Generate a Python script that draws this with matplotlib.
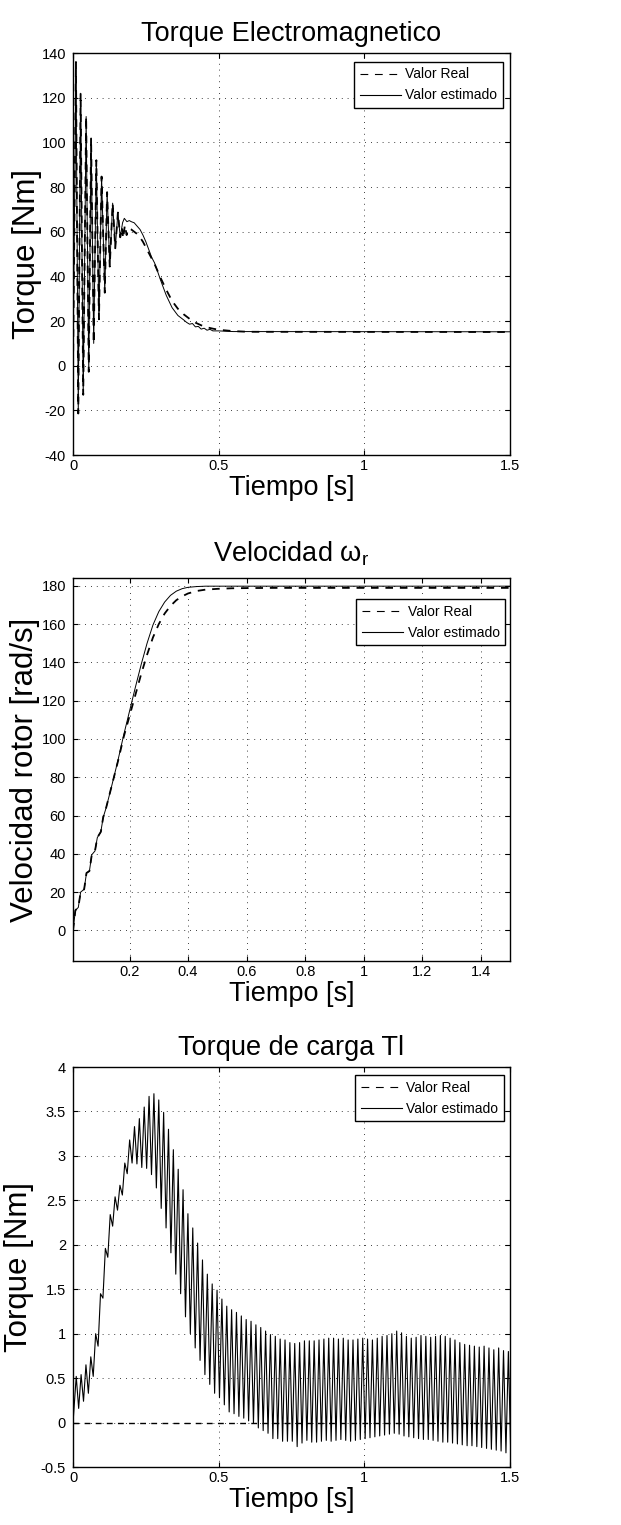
import numpy as np
import matplotlib
matplotlib.use('Agg')
import matplotlib.pyplot as plt
from matplotlib.ticker import FuncFormatter

plt.rcParams['font.family'] = ['Liberation Sans', 'DejaVu Sans']
plt.rcParams['mathtext.fontset'] = 'custom'
plt.rcParams['mathtext.rm'] = 'Liberation Sans'
plt.rcParams['mathtext.it'] = 'Liberation Sans'

# ---- torque electromagnetico: arranque oscilatorio (comun a ambas curvas)
te_osc_t = [0.0, 0.010, 0.018, 0.026, 0.035, 0.045, 0.054, 0.062, 0.071, 0.080,
            0.089, 0.098, 0.109, 0.117, 0.126, 0.136, 0.145, 0.154, 0.162]
te_osc = [0.0, 136, -21.4, 122, -13, 111.6, -2.7, 102, 10, 92,
          20.8, 84.7, 32.7, 77.7, 44.4, 72.8, 52.6, 68.6, 57.5]

# valor real despues de las oscilaciones
te_real_t = [0.168, 0.172, 0.178, 0.184, 0.19, 0.20, 0.21, 0.22, 0.23, 0.24, 0.25,
             0.26, 0.27, 0.28, 0.29, 0.30, 0.32, 0.34, 0.36, 0.38, 0.40, 0.42,
             0.44, 0.46, 0.48, 0.50, 0.55, 0.60, 1.50]
te_real = [62, 57, 63, 58.5, 61.5, 61, 60, 59, 57.5, 55.5, 53,
           50.5, 48, 45.5, 42.5, 39.5, 34, 29, 25.5, 23, 21, 19.3,
           18.1, 17.2, 16.6, 16.1, 15.5, 15.2, 15.1]

# valor estimado despues de las oscilaciones
te_est_t = [0.17, 0.176, 0.185, 0.193, 0.20, 0.21, 0.22, 0.23, 0.24, 0.25, 0.26,
            0.27, 0.28, 0.29, 0.30, 0.32, 0.34, 0.36, 0.38, 0.39, 0.40, 0.41,
            0.42, 0.43, 0.44, 0.45, 0.46, 0.47, 0.48, 0.50, 0.55, 1.50]
te_est = [64, 66, 64.5, 65, 64.5, 64, 62.5, 61, 58.5, 55.5, 52,
          48.5, 46, 42.3, 38.5, 31.5, 26, 22.5, 20.5, 19.4, 18.6, 18.9,
          17.4, 17.6, 16.4, 16.8, 15.9, 16.3, 15.6, 15.6, 15.3, 15.2]

# ---- velocidad del rotor
wr_real_t = [0.007, 0.015, 0.025, 0.033, 0.045, 0.053, 0.063, 0.071, 0.082, 0.09,
             0.102, 0.11, 0.12, 0.14, 0.16, 0.18, 0.20, 0.22, 0.24, 0.26, 0.28,
             0.30, 0.32, 0.34, 0.36, 0.38, 0.40, 0.43, 0.46, 0.50, 0.55, 0.60,
             0.70, 1.50]
wr_real = [0, 10.5, 12, 20, 21.5, 30, 31, 39.5, 41.5, 48.5,
           51.5, 59, 64, 76, 88, 101, 112, 123, 134, 144, 153,
           160, 165.5, 169.5, 172.5, 174.5, 176, 177.3, 178, 178.4, 178.7, 178.8,
           178.9, 178.9]

wr_est_t = [0.007, 0.015, 0.025, 0.033, 0.045, 0.053, 0.063, 0.071, 0.082, 0.09,
            0.102, 0.11, 0.12, 0.14, 0.16, 0.18, 0.20, 0.22, 0.24, 0.26, 0.28,
            0.30, 0.32, 0.34, 0.36, 0.38, 0.40, 0.43, 0.46, 1.50]
wr_est = [0, 10.5, 12, 20, 21.5, 30, 31, 39.5, 41.5, 48.5,
          51.5, 59, 64, 76, 88.5, 102, 114.5, 127, 139, 150, 159.5,
          166.5, 171.5, 175, 177.2, 178.5, 179.2, 179.6, 179.8, 179.8]

# ---- torque de carga estimado: crestas y valles de cada ciclo (60 Hz)
tl_t0 = 0.011
tl_period = 1 / 60.0
tl_peak = [0.52, 0.54, 0.65, 0.74, 1.0, 1.45, 1.96, 2.34, 2.54, 2.67,
           2.92, 3.18, 3.33, 3.42, 3.55, 3.67, 3.70, 3.63, 3.49, 3.30,
           3.07, 2.85, 2.62, 2.35, 2.19, 2.02, 1.83, 1.67, 1.56, 1.49,
           1.39, 1.31, 1.27, 1.24, 1.20, 1.16, 1.14, 1.10, 1.07, 1.03,
           0.99, 0.97, 0.94, 0.93, 0.90, 0.89, 0.90, 0.92, 0.92, 0.92,
           0.93, 0.94, 0.95, 0.95, 0.94, 0.95, 0.93, 0.93, 0.94, 0.95,
           0.94, 0.93, 0.95, 0.97, 0.98, 1.0, 1.03, 1.01, 0.97, 0.95,
           0.96, 0.98, 0.97, 0.96, 0.97, 0.98, 0.97, 0.95, 0.93, 0.90,
           0.88, 0.87, 0.86, 0.85, 0.86, 0.84, 0.82, 0.84, 0.81, 0.80]
tl_trough = [0.16, 0.24, 0.33, 0.52, 0.86, 1.40, 1.86, 2.21, 2.39, 2.56,
             2.80, 2.92, 2.91, 2.87, 2.86, 2.79, 2.64, 2.41, 2.19, 1.91,
             1.67, 1.45, 1.19, 1.0, 0.84, 0.70, 0.54, 0.43, 0.33, 0.28,
             0.20, 0.12, 0.10, 0.07, 0.05, 0.02, -0.01, -0.06, -0.09, -0.12,
             -0.18, -0.18, -0.21, -0.21, -0.21, -0.27, -0.23, -0.20, -0.22, -0.22,
             -0.21, -0.20, -0.21, -0.20, -0.19, -0.20, -0.21, -0.20, -0.19, -0.18,
             -0.17, -0.16, -0.15, -0.14, -0.13, -0.12, -0.13, -0.15, -0.16, -0.17,
             -0.18, -0.19, -0.19, -0.20, -0.21, -0.22, -0.22, -0.23, -0.24, -0.25,
             -0.26, -0.26, -0.27, -0.28, -0.29, -0.30, -0.31, -0.32, -0.34, -0.38]
tl_real_t = [0.0, 1.5]
tl_real = [0.0, 0.0]

k = np.arange(len(tl_peak))
t_peak = tl_t0 + k * tl_period
t_trough = t_peak + tl_period / 2
tl_t = np.concatenate([[0.0], np.column_stack([t_peak, t_trough]).ravel()])
tl_est = np.concatenate([[0.0], np.column_stack([tl_peak, tl_trough]).ravel()])

te_real_all = (te_osc_t + te_real_t, te_osc + te_real)
te_est_all = (te_osc_t + te_est_t, te_osc + te_est)

DASH = (0, (4.2, 3.8))
fmt = FuncFormatter(lambda v, p: '%g' % v)


def style_axes(ax):
    ax.grid(True, color='k', linestyle=(0, (1, 6)), linewidth=0.6)
    ax.tick_params(direction='in', length=3.5, width=0.8, top=True, right=True,
                   labelsize=10.5)
    ax.tick_params(axis='y', pad=5)
    ax.tick_params(axis='x', pad=3)
    for s in ax.spines.values():
        s.set_linewidth(1.0)
    ax.xaxis.set_major_formatter(fmt)
    ax.yaxis.set_major_formatter(fmt)


def add_legend(ax, anchor):
    leg = ax.legend(loc='upper right', bbox_to_anchor=anchor, fontsize=10,
                    fancybox=False, edgecolor='k', framealpha=1,
                    handlelength=3.0, handletextpad=0.3, borderpad=0.4,
                    labelspacing=0.5, borderaxespad=0)
    leg.get_frame().set_linewidth(1.0)
    # muestras finas en la leyenda
    hl = leg.get_lines()
    hl[0].set_linewidth(0.8)
    hl[0].set_linestyle((0, (7, 6)))
    hl[1].set_linewidth(0.8)


fig = plt.figure(figsize=(6.21, 15.25), dpi=100)

# torque electromagnetico
ax1 = fig.add_axes([0.1176, 0.7016, 0.7037, 0.2636])
ax1.plot(*te_real_all, color='k', lw=1.3, linestyle=DASH, label='Valor Real')
ax1.plot(*te_est_all, color='k', lw=0.7, label='Valor estimado')
ax1.set_xlim(0, 1.5)
ax1.set_ylim(-40, 140)
ax1.set_xticks([0, 0.5, 1, 1.5])
ax1.set_yticks(np.arange(-40, 141, 20))
style_axes(ax1)
ax1.set_title('Torque Electromagnetico', fontsize=19.5, pad=9)
ax1.set_xlabel('Tiempo [s]', fontsize=19.5, labelpad=1)
ax1.set_ylabel('Torque [Nm]', fontsize=22.5)
ax1.yaxis.set_label_coords(-0.07, 0.5)
add_legend(ax1, (0.984, 0.978))

# velocidad del rotor
ax2 = fig.add_axes([0.1176, 0.3698, 0.7037, 0.2511])
ax2.plot(wr_real_t, wr_real, color='k', lw=1.3, linestyle=DASH, label='Valor Real')
ax2.plot(wr_est_t, wr_est, color='k', lw=0.7, label='Valor estimado')
ax2.set_xlim(0.007, 1.5)
ax2.set_ylim(-16, 184)
ax2.set_xticks(np.arange(0.2, 1.41, 0.2))
ax2.set_yticks(np.arange(0, 181, 20))
style_axes(ax2)
ax2.set_title('Velocidad $\\mathregular{\u03c9_r}$', fontsize=19.5, pad=12)
ax2.set_xlabel('Tiempo [s]', fontsize=19.5, labelpad=1)
ax2.set_ylabel('Velocidad rotor [rad/s]', fontsize=22.5)
ax2.yaxis.set_label_coords(-0.075, 0.5)
add_legend(ax2, (0.989, 0.945))

# torque de carga
ax3 = fig.add_axes([0.1176, 0.0380, 0.7037, 0.2623])
ax3.plot(tl_real_t, tl_real, color='k', lw=1.0, linestyle=DASH, label='Valor Real')
ax3.plot(tl_t, tl_est, color='k', lw=0.8, label='Valor estimado')
ax3.set_xlim(0, 1.5)
ax3.set_ylim(-0.5, 4)
ax3.set_xticks([0, 0.5, 1, 1.5])
ax3.set_yticks(np.arange(-0.5, 4.01, 0.5))
style_axes(ax3)
ax3.set_title('Torque de carga Tl', fontsize=19.5, pad=9)
ax3.set_xlabel('Tiempo [s]', fontsize=19.5, labelpad=1)
ax3.set_ylabel('Torque [Nm]', fontsize=22.5)
ax3.yaxis.set_label_coords(-0.09, 0.5)
add_legend(ax3, (0.986, 0.98))

fig.savefig('out.png', dpi=100)
